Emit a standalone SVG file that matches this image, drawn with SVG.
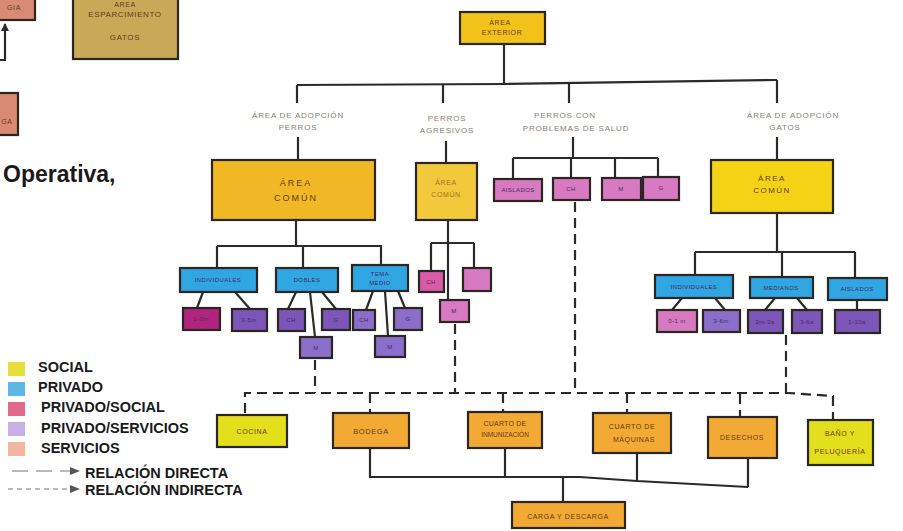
<svg xmlns="http://www.w3.org/2000/svg" width="903" height="531" viewBox="0 0 903 531">
<style>
.bx{stroke:#2b2622;stroke-width:2.2}
.hw{font-family:"Liberation Sans",Arial,sans-serif;font-size:7px;fill:#6a3a18;text-anchor:middle;letter-spacing:0.6px}
.hws{font-family:"Liberation Sans",Arial,sans-serif;font-size:6px;fill:#4a2a5a;text-anchor:middle;letter-spacing:0.4px}
.lbl{font-family:"Liberation Sans",Arial,sans-serif;font-size:8px;fill:#8a8078;text-anchor:middle;letter-spacing:0.8px}
.leg{font-family:"Liberation Sans",Arial,sans-serif;font-size:14.5px;font-weight:bold;fill:#1a1a1a}
.ln{fill:none;stroke:#2b2a28;stroke-width:2.2}
.dl{fill:none;stroke:#2b2a28;stroke-width:2.2;stroke-dasharray:10 6}
.gold{fill:#efb824}.yel{fill:#f4d215}.ext{fill:#f2c21a}.agr{fill:#f2c93a}
.pk{fill:#d77ac2}.bl{fill:#2fa6e2}.mg{fill:#b0237f}.pu{fill:#7c57b9}.lv{fill:#8a6ec9}.pk2{fill:#d95aa8}
.or{fill:#f2aa34}.cy{fill:#e3df1c}.kh{fill:#c9a857}.sa{fill:#d98a72}
</style>
<defs>
<marker id="ah" markerWidth="8" markerHeight="8" refX="7" refY="4" orient="auto" markerUnits="userSpaceOnUse">
<path d="M0,0 L8,4 L0,8 Z" fill="#2b2a28"/>
</marker>
<marker id="lah" markerWidth="10" markerHeight="8" refX="2" refY="4" orient="auto" markerUnits="userSpaceOnUse">
<path d="M0,0 L10,4 L0,8 Z" fill="#555"/>
</marker>
</defs>
<rect width="903" height="531" fill="#ffffff"/>

<!-- partial elements top-left -->
<g id="tl-box1"><rect class="bx sa" x="-5" y="-5" width="40" height="25"/><text class="hw" x="14" y="10" fill="#5a2a1a">GIA</text></g>
<g id="tl-box2"><rect class="bx sa" x="-5" y="93" width="23" height="42"/><text class="hw" x="7" y="124">GA</text></g>
<g id="tl-espar"><rect class="bx kh" x="73" y="-5" width="105" height="64"/><text class="hw" x="125" y="7" style="font-size:7px">AREA</text><text class="hw" x="125" y="17" style="font-size:8px">ESPARCIMIENTO</text><text class="hw" x="125" y="40" style="font-size:8px">GATOS</text></g>
<text x="3" y="182" style="font-family:'Liberation Sans',Arial,sans-serif;font-size:23px;font-weight:bold;fill:#1a1a1a">Operativa,</text>

<!-- connectors -->
<g id="connectors">
<path class="ln" d="M0,60 H5 V24" marker-end="url(#ah)"/>
<path class="ln" d="M504,44 V84"/>
<path class="ln" d="M297,85 L504,84 L777,80"/>
<path class="ln" d="M297,85 V103 M443,84 V103 M569,83 V103 M777,80 V103"/>
<path class="ln" d="M298,137 V160 M446,141 V163 M573,137 V158 M777,137 V160"/>
<path class="ln" d="M513,158 H658 M513,158 V179 M571,158 V178 M615,158 V178 M658,158 V177"/>
<path class="ln" d="M296,220 V246 M217,246 H382 M217,246 V268 M303,246 V268 M381,246 V265"/>
<path class="ln" d="M448,220 V300 M431,243 H474 M431,243 V271 M474,243 V268"/>
<path class="ln" d="M777,213 V252 M695,252 H855 M695,252 V275 M782,252 V277 M855,252 V278"/>
<path class="ln" d="M203,292 L197,308 M235,292 L250,309 M296,292 L288,309 M322,292 L336,309 M310,292 L315,337 M373,291 L366,310 M398,291 L405,308 M385,291 L388,336"/>
<path class="ln" d="M682,298 L672,310 M715,298 L725,310 M775,298 L765,310 M797,298 L807,310 M857,300 V310"/>
<path class="ln" d="M370,448 V477 L580,477 L637,481 L748,487 M505,448 V477 M637,453 V481 M748,458 V487 M563,478 V502"/>
<path class="dl" d="M315,360 V393 M455,324 V392 M575,202 V393 M786,335 V395"/>
<path class="dl" d="M245,413 V393 H788 L833,396 V420"/>
<path class="dl" d="M370,393 V413 M503,393 V412 M627,393 V413 M740,394 V417"/>
</g>

<!-- top level -->
<g id="area-exterior"><rect class="bx ext" x="460" y="12" width="85" height="32"/><text class="hw" x="500" y="25">ÁREA</text><text class="hw" x="502" y="35">EXTERIOR</text></g>
<g id="lbl-perros"><text class="lbl" x="298" y="118">ÁREA DE ADOPCIÓN</text><text class="lbl" x="298" y="130">PERROS</text></g>
<g id="lbl-agresivos"><text class="lbl" x="447" y="121">PERROS</text><text class="lbl" x="447" y="133">AGRESIVOS</text></g>
<g id="lbl-problemas"><text class="lbl" x="565" y="118">PERROS CON</text><text class="lbl" x="576" y="131">PROBLEMAS DE SALUD</text></g>
<g id="lbl-gatos"><text class="lbl" x="793" y="118">ÁREA DE ADOPCIÓN</text><text class="lbl" x="785" y="130">GATOS</text></g>

<g id="comun-perros"><rect class="bx gold" x="212" y="160" width="163" height="60"/><text class="hw" x="296" y="186" style="font-size:9px;letter-spacing:2px">ÁREA</text><text class="hw" x="296" y="201" style="font-size:9px;letter-spacing:2px">COMÚN</text></g>
<g id="comun-agresivos"><rect class="bx agr" x="416" y="163" width="61" height="57"/><text class="hw" x="446" y="185" style="opacity:.6">ÁREA</text><text class="hw" x="446" y="197" style="opacity:.6">COMÚN</text></g>
<g id="comun-gatos"><rect class="bx yel" x="711" y="160" width="122" height="53"/><text class="hw" x="772" y="181" style="font-size:8px;letter-spacing:1.5px">ÁREA</text><text class="hw" x="772" y="193" style="font-size:8px;letter-spacing:1.5px">COMÚN</text></g>

<g id="prob1"><rect class="bx pk" x="494" y="179" width="48" height="22"/><text class="hws" x="518" y="192" fill="#8a3a80">AISLADOS</text></g>
<g id="prob2"><rect class="bx pk" x="553" y="178" width="37" height="22"/><text class="hws" x="571" y="191">CH</text></g>
<g id="prob3"><rect class="bx pk" x="602" y="178" width="39" height="22"/><text class="hws" x="621" y="191">M</text></g>
<g id="prob4"><rect class="bx pk" x="643" y="177" width="36" height="23"/><text class="hws" x="661" y="190">G</text></g>

<!-- perros cluster -->
<g id="p-indiv"><rect class="bx bl" x="180" y="268" width="77" height="24"/><text class="hws" x="218" y="282" fill="#1e4a80">INDIVIDUALES</text></g>
<g id="p-dobles"><rect class="bx bl" x="276" y="268" width="62" height="24"/><text class="hws" x="307" y="282" fill="#1e4a80">DOBLES</text></g>
<g id="p-tema"><rect class="bx bl" x="352" y="265" width="56" height="26"/><text class="hws" x="380" y="276" fill="#1e4a80">TEMA</text><text class="hws" x="380" y="285" fill="#1e4a80">MEDIO</text></g>
<g id="p-a1"><rect class="bx mg" x="183" y="308" width="37" height="22"/><text class="hws" x="201" y="321" fill="#e070b0">1-3m</text></g>
<g id="p-a2"><rect class="bx pu" x="232" y="309" width="35" height="22"/><text class="hws" x="249" y="322" fill="#b0a0e0">3-5m</text></g>
<g id="p-b1"><rect class="bx pu" x="278" y="309" width="27" height="22"/><text class="hws" x="291" y="322" fill="#c0b0f0">CH</text></g>
<g id="p-b2"><rect class="bx pu" x="322" y="309" width="28" height="21"/><text class="hws" x="336" y="322" fill="#c0b0f0">G</text></g>
<g id="p-b3"><rect class="bx lv" x="300" y="337" width="32" height="21"/><text class="hws" x="316" y="350" fill="#d0c0f0">M</text></g>
<g id="p-c1"><rect class="bx lv" x="353" y="310" width="22" height="20"/><text class="hws" x="364" y="322" fill="#d0c0f0">CH</text></g>
<g id="p-c2"><rect class="bx lv" x="394" y="308" width="28" height="22"/><text class="hws" x="408" y="321" fill="#d0c0f0">G</text></g>
<g id="p-c3"><rect class="bx lv" x="375" y="336" width="30" height="21"/><text class="hws" x="390" y="349" fill="#e0d0ff">M</text></g>

<!-- agresivos cluster -->
<g id="agr1"><rect class="bx pk2" x="419" y="271" width="25" height="21"/><text class="hws" x="431" y="284" fill="#f0a0d0">CH</text></g>
<g id="agr2"><rect class="bx pk" x="463" y="268" width="28" height="23"/></g>
<g id="agr3"><rect class="bx pk" x="440" y="300" width="29" height="22"/><text class="hws" x="454" y="313" fill="#f0b0e0">M</text></g>

<!-- gatos cluster -->
<g id="g-indiv"><rect class="bx bl" x="655" y="275" width="78" height="23"/><text class="hws" x="694" y="289" fill="#1e4a80">INDIVIDUALES</text></g>
<g id="g-med"><rect class="bx bl" x="750" y="277" width="63" height="21"/><text class="hws" x="781" y="290" fill="#1e4a80">MEDIANOS</text></g>
<g id="g-ais"><rect class="bx bl" x="828" y="278" width="59" height="22"/><text class="hws" x="857" y="291" fill="#1e4a80">AISLADOS</text></g>
<g id="g-s1"><rect class="bx pk" x="657" y="310" width="40" height="22"/><text class="hws" x="677" y="323" fill="#fff0f8">0-1 m</text></g>
<g id="g-s2"><rect class="bx lv" x="703" y="310" width="37" height="22"/><text class="hws" x="721" y="323" fill="#e0d8ff">3-6m</text></g>
<g id="g-s3"><rect class="bx pu" x="748" y="310" width="35" height="23"/><text class="hws" x="765" y="324" fill="#d8c8ff">2m-3a</text></g>
<g id="g-s4"><rect class="bx pu" x="792" y="310" width="30" height="23"/><text class="hws" x="807" y="324" fill="#d8c8ff">3-6a</text></g>
<g id="g-s5"><rect class="bx pu" x="835" y="310" width="45" height="23"/><text class="hws" x="857" y="324" fill="#d8c8ff">1-10a</text></g>

<!-- bottom row -->
<g id="cocina"><rect class="bx cy" x="217" y="415" width="70" height="32"/><text class="hw" x="252" y="434">COCINA</text></g>
<g id="bodega"><rect class="bx or" x="333" y="413" width="76" height="35"/><text class="hw" x="371" y="434" style="font-size:7.5px">BODEGA</text></g>
<g id="cuarto-inm"><rect class="bx or" x="468" y="412" width="74" height="36"/><text class="hw" x="505" y="426" style="letter-spacing:0.2px">CUARTO DE</text><text class="hw" x="505" y="437" style="letter-spacing:0;font-size:6.5px">INMUNIZACIÓN</text></g>
<g id="cuarto-maq"><rect class="bx or" x="593" y="413" width="78" height="40"/><text class="hw" x="632" y="429">CUARTO DE</text><text class="hw" x="634" y="442">MÁQUINAS</text></g>
<g id="desechos"><rect class="bx or" x="708" y="417" width="69" height="41"/><text class="hw" x="742" y="440">DESECHOS</text></g>
<g id="bano"><rect class="bx cy" x="808" y="420" width="65" height="45"/><text class="hw" x="840" y="436">BAÑO Y</text><text class="hw" x="840" y="454">PELUQUERÍA</text></g>
<g id="carga"><rect class="bx or" x="512" y="502" width="113" height="26"/><text class="hw" x="568" y="519">CARGA Y DESCARGA</text></g>

<!-- legend -->
<g id="legend">
<rect x="8" y="362" width="17" height="14" fill="#e8df3c"/>
<rect x="8" y="382" width="17" height="14" fill="#5db6e6"/>
<rect x="8" y="402" width="17" height="14" fill="#e2688c"/>
<rect x="8" y="422" width="17" height="14" fill="#c8b0e4"/>
<rect x="8" y="442" width="17" height="14" fill="#f1b5a2"/>
<text class="leg" x="38" y="372">SOCIAL</text>
<text class="leg" x="38" y="392">PRIVADO</text>
<text class="leg" x="41" y="412">PRIVADO/SOCIAL</text>
<text class="leg" x="41" y="433">PRIVADO/SERVICIOS</text>
<text class="leg" x="41" y="453">SERVICIOS</text>
<path d="M12,471 H72" stroke="#777" stroke-width="1.2" stroke-dasharray="16 8" fill="none" marker-end="url(#lah)"/>
<path d="M8,489 H72" stroke="#777" stroke-width="1.2" stroke-dasharray="5 4" fill="none" marker-end="url(#lah)"/>
<text class="leg" x="85" y="478">RELACIÓN DIRECTA</text>
<text class="leg" x="85" y="495">RELACIÓN INDIRECTA</text>
</g>
</svg>
